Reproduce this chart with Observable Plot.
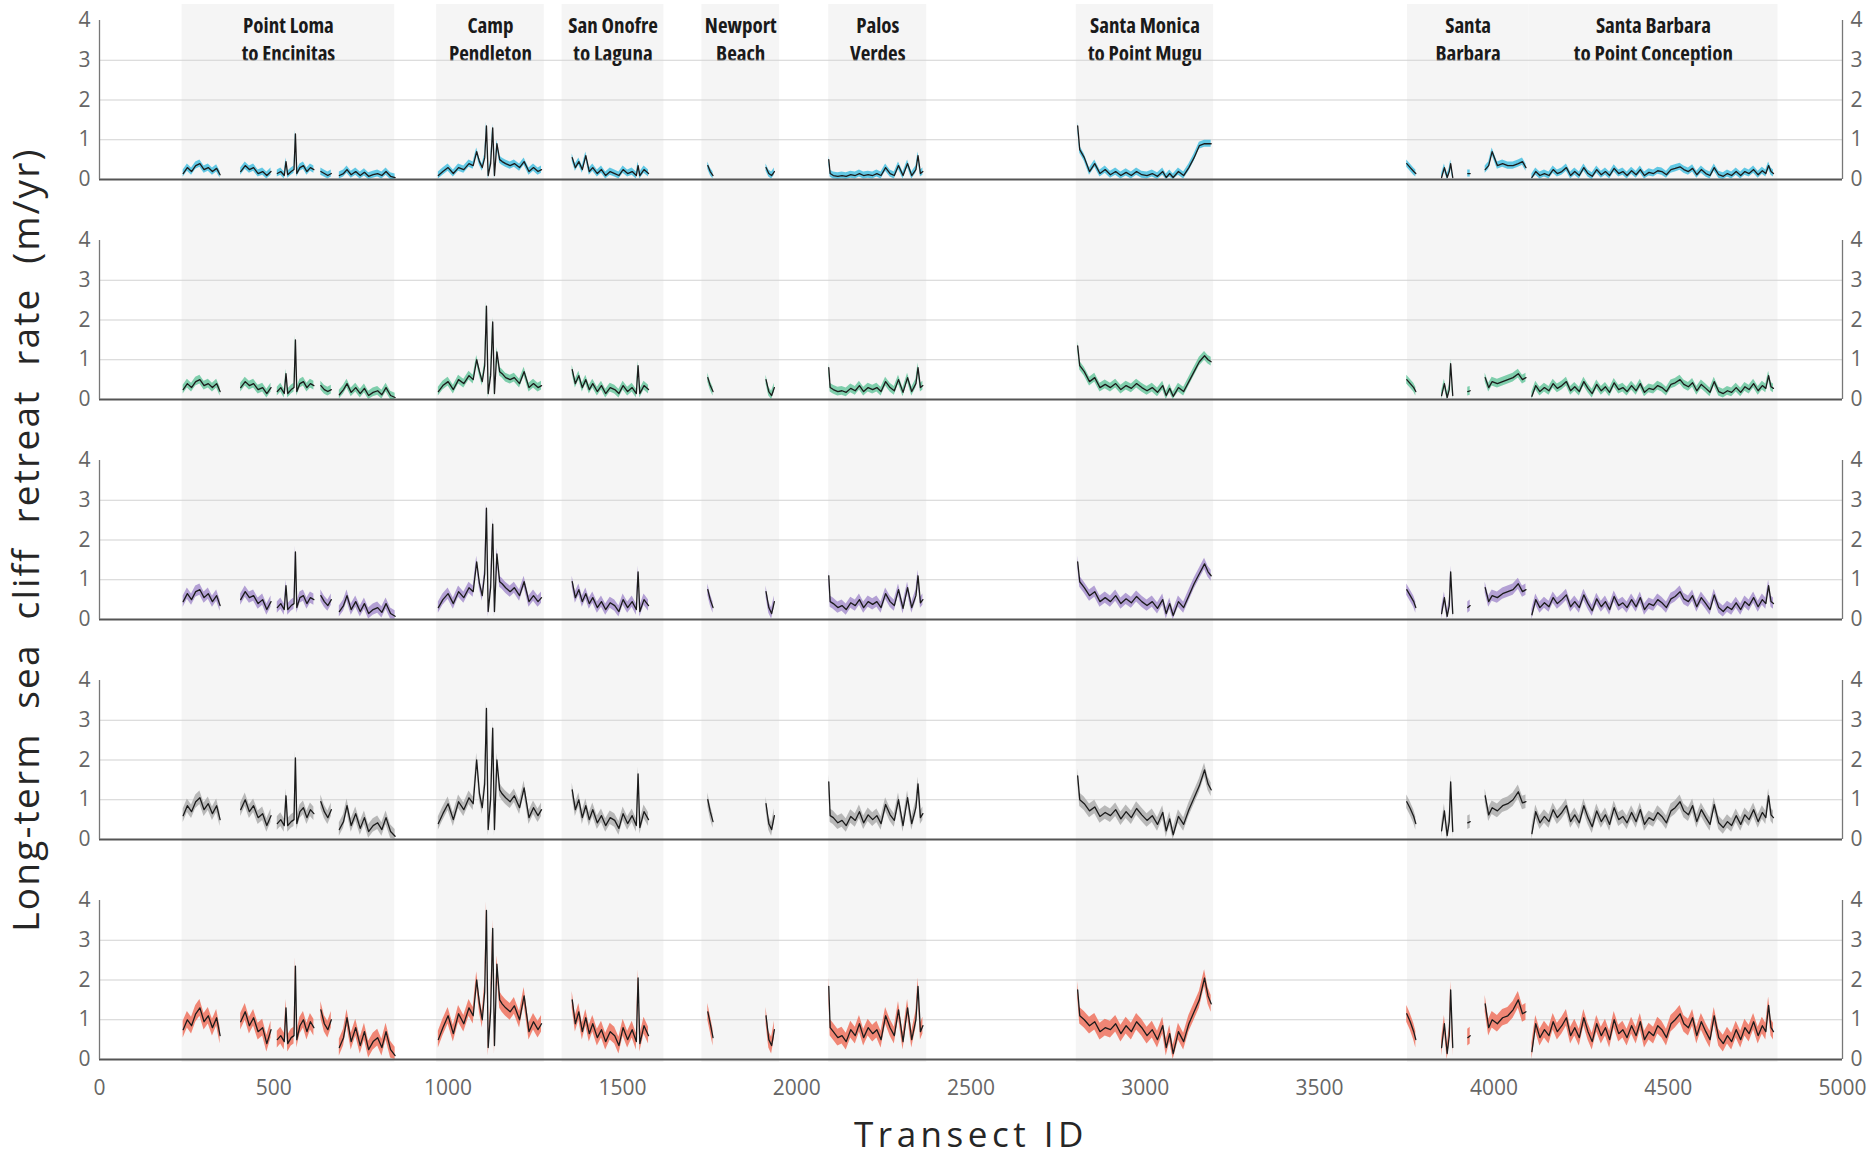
<!DOCTYPE html>
<html><head><meta charset="utf-8">
<script src="https://cdn.jsdelivr.net/npm/d3@7"></script>
<script src="https://cdn.jsdelivr.net/npm/@observablehq/plot@0.6"></script>
<style>
html,body{margin:0;padding:0;background:#fff;overflow:hidden;}
#wrap{position:relative;width:1874px;height:1159px;overflow:hidden;background:#fff;}
.layer{position:absolute;left:0;}
</style></head><body><div id="wrap"></div>
<script>
// ---- Transect IDs sampled per contiguous stretch of data ----
const clusterTransects = [
  [240,252,264,276,288,300,312,324,336,346],
  [405,418,430,442,455,468,480,492],
  [510,520,530,535,540,550,558,562,566,575,585,595,605,615],
  [635,645,655,665],
  [688,700,710,722,735,748,760,772,785,798,810,822,835,848],
  [972,985,1000,1015,1030,1045,1060,1072,1082,1090,1098,1105,1110,1115,1122,1128,1133,1140,1148,1155,1165,1178,1190,1205,1218,1232,1245,1258,1268],
  [1356,1365,1375,1385,1395,1405,1415,1428,1440,1452,1465,1478,1490,1502,1515,1528,1540,1545,1550,1562,1575],
  [1745,1752,1760],
  [1912,1920,1928,1936],
  [2092,2096,2105,2118,2130,2142,2155,2168,2180,2192,2205,2218,2230,2242,2255,2268,2280,2292,2305,2318,2330,2342,2348,2355,2362],
  [2806,2812,2825,2840,2855,2870,2885,2900,2915,2930,2945,2960,2975,2990,3005,3020,3035,3050,3060,3070,3080,3095,3110,3125,3140,3155,3170,3180,3189],
  [3750,3760,3770,3776],
  [3850,3858,3866,3872,3876,3882],
  [3925,3932],
  [3975,3985,3995,4010,4025,4040,4055,4070,4082,4092],
  [4109,4120,4132,4145,4158,4170,4182,4195,4208,4220,4232,4245,4258,4270,4282,4295,4308,4320,4332,4345,4358,4370,4382,4395,4408,4420,4432,4445,4458,4470,4482,4495,4508,4520,4534,4545,4558,4570,4582,4595,4608,4620,4632,4645,4658,4670,4682,4695,4708,4720,4732,4745,4758,4770,4780,4788,4795,4802]
];

// ---- Retreat rate (m/yr), one array per panel (top to bottom) ----
const rateCyan = [
  [0.15,0.3,0.2,0.35,0.4,0.25,0.3,0.2,0.28,0.12],
  [0.2,0.35,0.25,0.3,0.15,0.2,0.1,0.2],
  [0.15,0.2,0.1,0.45,0.12,0.2,0.25,1.15,0.15,0.3,0.35,0.2,0.3,0.25],
  [0.2,0.15,0.1,0.15],
  [0.1,0.15,0.25,0.12,0.2,0.1,0.18,0.08,0.12,0.15,0.1,0.2,0.08,0.05],
  [0.1,0.2,0.3,0.15,0.3,0.25,0.4,0.35,0.7,0.45,0.3,0.55,1.35,0.1,0.4,1.3,0.1,0.9,0.5,0.45,0.4,0.35,0.4,0.3,0.45,0.2,0.3,0.2,0.25],
  [0.55,0.3,0.45,0.25,0.6,0.2,0.3,0.15,0.25,0.1,0.2,0.15,0.1,0.25,0.15,0.2,0.1,0.35,0.1,0.25,0.15],
  [0.35,0.2,0.1],
  [0.3,0.15,0.1,0.2],
  [0.5,0.15,0.1,0.08,0.1,0.08,0.12,0.1,0.15,0.1,0.12,0.1,0.15,0.1,0.3,0.15,0.1,0.35,0.1,0.4,0.1,0.25,0.6,0.15,0.2],
  [1.35,0.75,0.55,0.2,0.4,0.15,0.25,0.12,0.2,0.1,0.18,0.1,0.2,0.12,0.1,0.15,0.08,0.2,0.05,0.15,0.05,0.2,0.1,0.3,0.55,0.85,0.9,0.9,0.9],
  [0.4,0.3,0.2,0.15],
  [0.05,0.3,0.05,0.2,0.4,0.05],
  [0.15,0.15],
  [0.25,0.35,0.7,0.35,0.4,0.35,0.35,0.4,0.45,0.3],
  [0.05,0.2,0.1,0.15,0.1,0.25,0.15,0.2,0.3,0.1,0.2,0.1,0.3,0.15,0.08,0.25,0.12,0.2,0.1,0.28,0.15,0.2,0.1,0.22,0.12,0.25,0.1,0.18,0.15,0.22,0.2,0.12,0.25,0.28,0.32,0.25,0.2,0.28,0.12,0.25,0.15,0.1,0.3,0.12,0.08,0.15,0.1,0.2,0.1,0.2,0.15,0.25,0.12,0.22,0.15,0.35,0.2,0.15]
];
const rateGreen = [
  [0.25,0.4,0.3,0.45,0.5,0.35,0.4,0.3,0.4,0.2],
  [0.3,0.45,0.35,0.4,0.25,0.3,0.15,0.3],
  [0.2,0.3,0.15,0.65,0.15,0.25,0.3,1.5,0.2,0.4,0.45,0.3,0.4,0.35],
  [0.35,0.25,0.2,0.25],
  [0.12,0.25,0.4,0.18,0.3,0.15,0.28,0.1,0.18,0.22,0.12,0.3,0.1,0.05],
  [0.2,0.35,0.45,0.25,0.5,0.4,0.6,0.5,1.0,0.7,0.45,0.85,2.35,0.15,0.6,1.95,0.15,1.2,0.7,0.65,0.55,0.5,0.55,0.4,0.7,0.3,0.4,0.3,0.35],
  [0.75,0.4,0.6,0.3,0.5,0.25,0.4,0.2,0.35,0.15,0.3,0.25,0.15,0.35,0.2,0.3,0.15,0.85,0.15,0.35,0.25],
  [0.55,0.35,0.2],
  [0.5,0.2,0.1,0.3],
  [0.8,0.3,0.25,0.2,0.22,0.18,0.28,0.22,0.35,0.2,0.3,0.25,0.3,0.2,0.45,0.3,0.22,0.5,0.18,0.55,0.2,0.4,0.8,0.3,0.35],
  [1.35,0.85,0.7,0.45,0.55,0.3,0.38,0.3,0.4,0.25,0.35,0.28,0.4,0.3,0.22,0.3,0.18,0.35,0.1,0.28,0.08,0.3,0.2,0.45,0.7,0.95,1.1,1.0,0.95],
  [0.5,0.4,0.3,0.2],
  [0.1,0.4,0.05,0.25,0.9,0.1],
  [0.2,0.22],
  [0.55,0.3,0.45,0.4,0.45,0.5,0.55,0.65,0.5,0.55],
  [0.08,0.35,0.2,0.3,0.22,0.4,0.28,0.35,0.45,0.22,0.32,0.2,0.45,0.28,0.15,0.38,0.22,0.32,0.18,0.42,0.25,0.3,0.2,0.35,0.22,0.4,0.18,0.28,0.25,0.35,0.3,0.2,0.38,0.42,0.5,0.38,0.32,0.42,0.22,0.38,0.28,0.18,0.45,0.2,0.15,0.22,0.18,0.3,0.18,0.32,0.25,0.4,0.22,0.35,0.28,0.6,0.32,0.28]
];
const ratePurple = [
  [0.45,0.65,0.5,0.7,0.75,0.55,0.65,0.45,0.6,0.35],
  [0.5,0.7,0.55,0.6,0.4,0.5,0.25,0.45],
  [0.3,0.4,0.25,0.85,0.25,0.35,0.4,1.7,0.3,0.55,0.6,0.4,0.55,0.5],
  [0.6,0.45,0.35,0.5],
  [0.2,0.35,0.6,0.25,0.45,0.2,0.4,0.15,0.25,0.3,0.18,0.4,0.15,0.08],
  [0.3,0.5,0.65,0.4,0.7,0.55,0.8,0.7,1.45,0.9,0.6,1.15,2.8,0.2,0.8,2.4,0.2,1.65,0.95,0.9,0.8,0.7,0.8,0.6,0.95,0.45,0.6,0.45,0.55],
  [0.95,0.55,0.75,0.45,0.65,0.4,0.55,0.3,0.45,0.25,0.42,0.35,0.2,0.5,0.3,0.45,0.25,1.2,0.2,0.5,0.35],
  [0.75,0.5,0.3],
  [0.7,0.3,0.15,0.45],
  [1.1,0.45,0.4,0.3,0.35,0.25,0.42,0.35,0.5,0.3,0.45,0.38,0.45,0.3,0.65,0.45,0.35,0.75,0.28,0.8,0.3,0.6,1.1,0.42,0.5],
  [1.45,0.95,0.8,0.6,0.7,0.45,0.55,0.45,0.6,0.4,0.52,0.42,0.58,0.45,0.35,0.45,0.28,0.5,0.15,0.4,0.1,0.45,0.3,0.6,0.9,1.15,1.4,1.2,1.1],
  [0.75,0.6,0.45,0.3],
  [0.15,0.55,0.08,0.35,1.2,0.15],
  [0.3,0.35],
  [0.8,0.45,0.6,0.55,0.65,0.7,0.75,0.9,0.7,0.75],
  [0.12,0.5,0.3,0.42,0.32,0.55,0.4,0.5,0.62,0.32,0.45,0.3,0.62,0.4,0.22,0.52,0.32,0.45,0.25,0.58,0.35,0.42,0.3,0.5,0.32,0.55,0.25,0.4,0.35,0.5,0.42,0.3,0.52,0.58,0.7,0.52,0.45,0.6,0.32,0.55,0.4,0.25,0.62,0.3,0.2,0.32,0.25,0.42,0.25,0.45,0.35,0.55,0.32,0.5,0.4,0.85,0.45,0.4]
];
const rateGray = [
  [0.6,0.85,0.7,0.95,1.05,0.75,0.9,0.65,0.85,0.5],
  [0.75,1.0,0.7,0.85,0.55,0.65,0.35,0.6],
  [0.4,0.5,0.35,1.1,0.35,0.45,0.5,2.05,0.4,0.7,0.8,0.55,0.75,0.65],
  [0.95,0.7,0.55,0.75],
  [0.25,0.45,0.85,0.35,0.65,0.28,0.55,0.2,0.35,0.42,0.25,0.55,0.2,0.08],
  [0.4,0.65,0.9,0.5,0.95,0.75,1.05,0.9,2.0,1.15,0.8,1.4,3.3,0.25,1.0,2.8,0.25,2.0,1.25,1.15,1.05,0.95,1.1,0.8,1.3,0.55,0.8,0.6,0.75],
  [1.25,0.75,1.0,0.55,0.85,0.5,0.75,0.42,0.6,0.35,0.55,0.48,0.28,0.65,0.4,0.6,0.35,1.65,0.3,0.7,0.5],
  [1.0,0.7,0.45],
  [0.9,0.4,0.25,0.6],
  [1.45,0.6,0.55,0.42,0.48,0.35,0.58,0.48,0.7,0.42,0.62,0.5,0.6,0.4,0.88,0.62,0.48,1.0,0.35,1.05,0.4,0.8,1.4,0.55,0.65],
  [1.6,1.0,0.9,0.72,0.82,0.58,0.68,0.6,0.75,0.52,0.7,0.55,0.78,0.62,0.48,0.6,0.38,0.68,0.22,0.52,0.12,0.58,0.38,0.75,1.05,1.35,1.75,1.4,1.25],
  [0.95,0.78,0.58,0.4],
  [0.22,0.72,0.1,0.45,1.45,0.2],
  [0.42,0.45],
  [1.1,0.62,0.8,0.72,0.85,0.9,1.0,1.2,0.92,0.95],
  [0.15,0.7,0.42,0.58,0.45,0.75,0.55,0.68,0.85,0.45,0.62,0.42,0.85,0.55,0.32,0.72,0.45,0.62,0.38,0.8,0.5,0.58,0.42,0.68,0.45,0.75,0.38,0.55,0.48,0.68,0.58,0.42,0.72,0.8,0.95,0.72,0.62,0.85,0.45,0.75,0.55,0.38,0.88,0.42,0.3,0.45,0.35,0.6,0.38,0.62,0.5,0.75,0.45,0.68,0.55,1.1,0.62,0.55]
];
const rateRed = [
  [0.75,1.0,0.85,1.15,1.3,0.95,1.1,0.8,1.05,0.6],
  [0.95,1.2,0.85,1.05,0.7,0.8,0.4,0.75],
  [0.5,0.6,0.45,1.3,0.4,0.55,0.6,2.35,0.5,0.85,1.0,0.7,0.95,0.8],
  [1.25,0.9,0.75,1.0],
  [0.3,0.55,1.05,0.45,0.8,0.35,0.7,0.25,0.45,0.55,0.3,0.7,0.25,0.1],
  [0.5,0.8,1.1,0.65,1.15,0.9,1.3,1.1,2.0,1.4,1.0,1.7,3.75,0.3,1.2,3.3,0.35,2.4,1.5,1.4,1.3,1.2,1.35,1.0,1.6,0.7,0.95,0.75,0.9],
  [1.5,0.9,1.2,0.7,1.05,0.65,0.9,0.55,0.75,0.45,0.7,0.6,0.35,0.8,0.5,0.75,0.45,2.05,0.4,0.85,0.6],
  [1.2,0.9,0.55],
  [1.1,0.5,0.35,0.75],
  [1.84,0.8,0.7,0.55,0.6,0.45,0.75,0.6,0.9,0.55,0.8,0.65,0.75,0.5,1.1,0.8,0.6,1.25,0.45,1.3,0.5,1.0,1.84,0.7,0.85],
  [1.75,1.1,1.0,0.85,0.95,0.7,0.8,0.75,0.9,0.65,0.85,0.7,0.95,0.8,0.6,0.75,0.5,0.85,0.3,0.65,0.15,0.7,0.45,0.9,1.2,1.5,2.05,1.6,1.4],
  [1.15,0.95,0.7,0.5],
  [0.3,0.9,0.15,0.6,1.75,0.3],
  [0.55,0.6],
  [1.4,0.8,1.0,0.9,1.05,1.1,1.25,1.5,1.15,1.2],
  [0.2,0.9,0.55,0.75,0.6,0.95,0.7,0.85,1.05,0.6,0.8,0.55,1.05,0.7,0.45,0.9,0.6,0.8,0.5,1.0,0.65,0.75,0.55,0.85,0.6,0.95,0.5,0.7,0.6,0.85,0.75,0.55,0.9,1.0,1.15,0.9,0.8,1.05,0.6,0.95,0.7,0.5,1.1,0.55,0.4,0.6,0.45,0.75,0.5,0.8,0.65,0.95,0.6,0.85,0.7,1.36,0.8,0.7]
];
// half-width of the uncertainty band in each panel (m/yr)
const bandHalfWidth = [0.09, 0.11, 0.14, 0.17, 0.21];

// ---- Coastal regions (shaded bands) ----
const regionNames = ["Point Loma\nto Encinitas","Camp\nPendleton","San Onofre\nto Laguna","Newport\nBeach","Palos\nVerdes","Santa Monica\nto Point Mugu","Santa\nBarbara","Santa Barbara\nto Point Conception"];
const regionStart = [237, 967, 1327, 1728, 2092, 2802, 3752, 4100];
const regionEnd   = [847, 1276, 1619, 1951, 2373, 3196, 4100, 4815];

const xTicks = [0,500,1000,1500,2000,2500,3000,3500,4000,4500,5000];
const yTicks = [0,1,2,3,4];
const yTitle = "Long-term\u00a0 sea\u00a0 cliff\u00a0 retreat\u00a0 rate\u00a0 (m/yr)";
const xTitle = "Transect ID";

// ---- Layout ----
const W = 1874, ML = 99, MR = 32;
const panelColors = ["#3dbde0","#62c49a","#a38bcc","#a9a9a9","#ef6a55"];
const seriesList = [rateCyan, rateGreen, ratePurple, rateGray, rateRed];
const baseStyle = {background:"transparent", overflow:"visible", fontFamily:"'Open Sans', sans-serif", fontSize:"21px"};
const wrap = document.getElementById("wrap");

function place(el, top) {
  const d = document.createElement("div");
  d.className = "layer";
  d.style.top = top + "px";
  d.appendChild(el);
  wrap.appendChild(d);
}

const regions = regionNames.map((name, i) => ({name, start: regionStart[i], end: regionEnd[i]}));
const bg = Plot.plot({
  width: W, height: 1062, marginLeft: ML, marginRight: MR, marginTop: 4, marginBottom: 0,
  x: {domain: [0, 5000], axis: null},
  y: {domain: [0, 1], axis: null},
  style: baseStyle,
  marks: [
    Plot.rect(regions, {x1: "start", x2: "end", fill: "#f5f5f5"}),
    Plot.text(regions, {x: d => (d.start + d.end) / 2, text: "name", frameAnchor: "top", lineAnchor: "top", dy: 8,
      fontSize: 21, fontWeight: "bold", lineHeight: 1.36, fill: "#1a1a1a",
      fontFamily: "'Open Sans', sans-serif"}),
    Plot.text([yTitle], {text: d => d, frameAnchor: "left", textAnchor: "middle", lineAnchor: "middle", dx: -72, dy: 6, rotate: -90, fontSize: 37, fill: "#262626"})
  ]
});
place(bg, 0);

seriesList.forEach((vals, p) => {
  const rows = [];
  clusterTransects.forEach((ts, c) => ts.forEach((t, i) => {
    if (vals[c] && vals[c][i] != null) rows.push({t, v: vals[c][i], seg: c});
  }));
  const h = bandHalfWidth[p];
  const last = p === 4;
  const mt = 12, mb = last ? 100 : 8;
  const chart = Plot.plot({
    width: W, height: mt + 159 + mb, marginLeft: ML, marginRight: MR, marginTop: mt, marginBottom: mb,
    x: last ? {domain: [0, 5000]} : {domain: [0, 5000], axis: null},
    y: {domain: [0, 4]},
    style: baseStyle,
    marks: [
      Plot.ruleY([1, 2, 3], {stroke: "#d2d2d2", strokeWidth: 1.2}),
      Plot.areaY(rows, {x: "t", y1: d => Math.max(0, d.v - h), y2: d => d.v + h, z: "seg", fill: panelColors[p], fillOpacity: 0.8}),
      Plot.line(rows, {x: "t", y: "v", z: "seg", stroke: "#1b1b1b", strokeWidth: 1.3}),
      Plot.ruleY([0], {stroke: "#555", strokeWidth: 2}),
      Plot.ruleX([0, 5000], {y1: 0, y2: 4, stroke: "#777", strokeWidth: 1.3}),
      Plot.axisY(yTicks, {anchor: "left", tickSize: 0, tickPadding: 9, label: null, fontSize: 21, color: "#666"}),
      Plot.axisY(yTicks, {anchor: "right", tickSize: 0, tickPadding: 8, label: null, fontSize: 21, color: "#666"}),
      last ? Plot.axisX(xTicks, {anchor: "bottom", tickSize: 0, tickPadding: 21, label: null, fontSize: 21, color: "#666", tickFormat: d => String(d)}) : null,
      last ? Plot.text([xTitle], {text: d => d, frameAnchor: "bottom", lineAnchor: "middle", dy: 76, fontSize: 35, fill: "#262626"}) : null
    ]
  });
  place(chart, 8 + 220 * p);
});

const regionSet = new Set(regionNames.flatMap(s => s.split("\n")));
d3.selectAll("#wrap text").each(function() {
  const s = this.textContent;
  if (s === xTitle) this.style.letterSpacing = "4.5px";
  if (s === yTitle) this.style.letterSpacing = "2.2px";
  if (regionNames.includes(s) || regionSet.has(s)) { this.style.fontStretch = "75%"; }
});
d3.selectAll("#wrap text tspan").each(function() {
  if (regionSet.has(this.textContent)) this.parentNode.style.fontStretch = "75%";
});
</script></body></html>
